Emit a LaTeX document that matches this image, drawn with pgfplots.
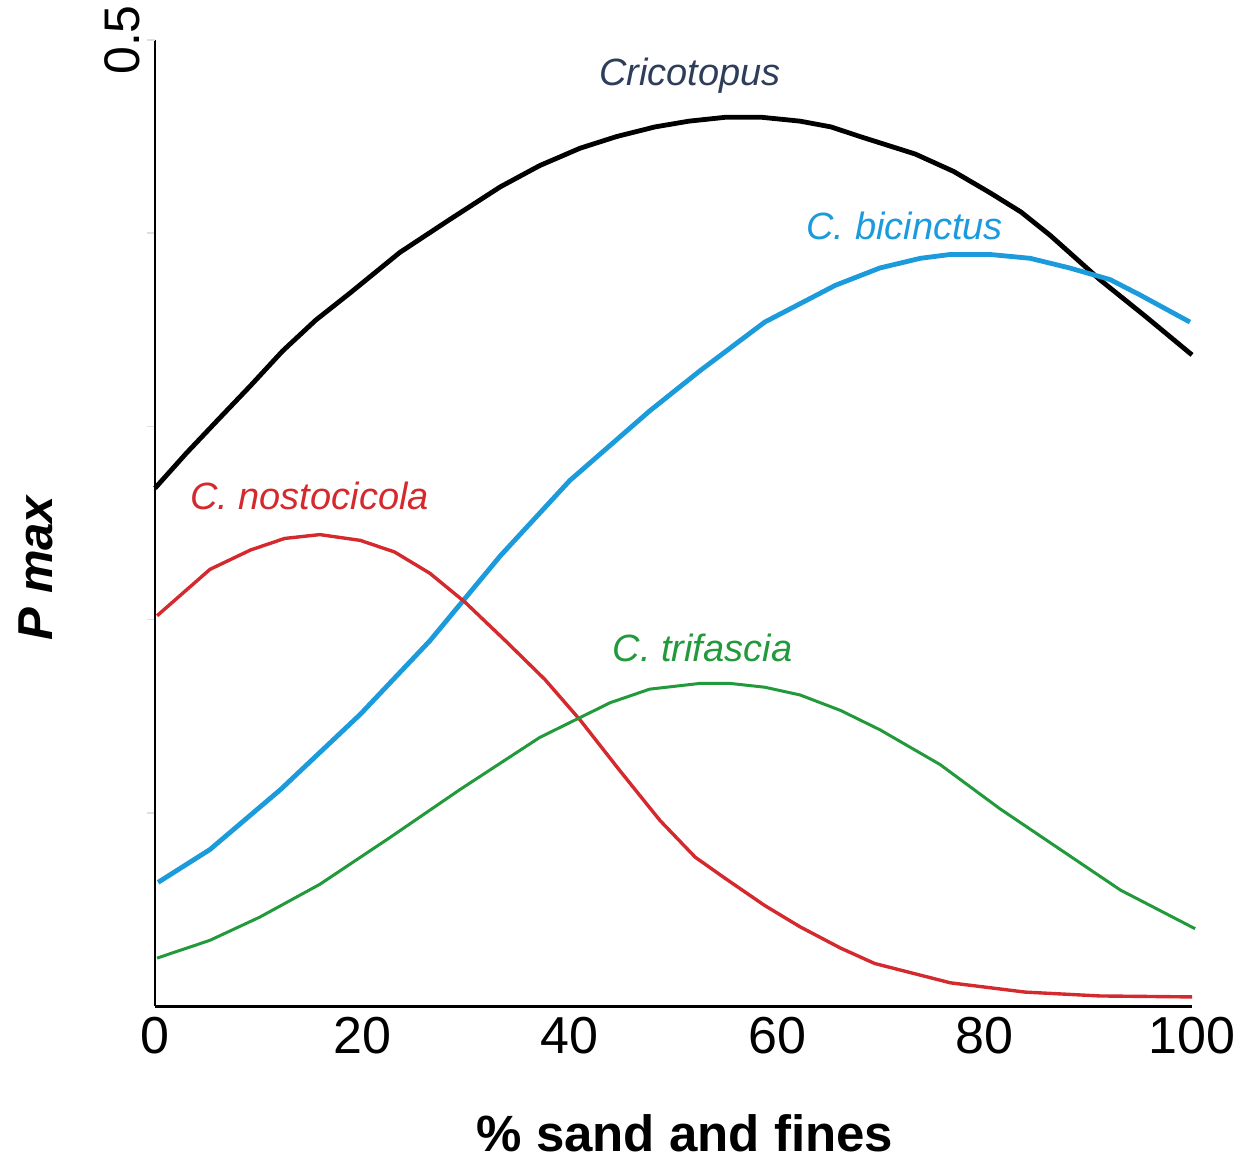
\documentclass[border=0pt]{standalone}
\usepackage{pgfplots}
\pgfplotsset{compat=1.18}
\usepackage{fontspec}
\setmainfont{Liberation Sans}
\definecolor{cblack}{HTML}{000000}
\definecolor{cblue}{HTML}{1B9BDC}
\definecolor{cred}{HTML}{D42A2E}
\definecolor{cgreen}{HTML}{22993A}
\definecolor{cslate}{HTML}{2E3D5A}
\definecolor{tickblue}{HTML}{33338F}
\begin{document}
\begin{tikzpicture}
\begin{axis}[
  scale only axis,
  width=518.5pt, height=483pt,
  xmin=0, xmax=100, ymin=0, ymax=0.5,
  axis lines=left,
  axis line style={-},
  x axis line style={line width=1.5pt},
  y axis line style={line width=1pt},
  clip=false,
  xtick={0,20,40,60,80,100},
  xticklabels={0,20,40,60,80,100},
  x tick label style={font=\fontsize{26}{30}\selectfont, yshift=2pt},
  xtick style={draw=none},
  ytick={0.1,0.2,0.3,0.4},
  yticklabels={},
  ytick style={gray!25, line width=0.8pt},
  tick align=outside,
  major tick length=4pt,
  extra y ticks={0.5},
  extra y tick labels={0.5},
  extra y tick style={
    tick style={tickblue, line width=1pt},
    tick label style={rotate=90, anchor=south, font=\fontsize{25}{30}\selectfont}
  },
  /pgf/number format/assume math mode=true,
  xlabel={\bfseries\% sand and fines},
  xlabel style={at={(axis description cs:0.511,-0.1511)}, anchor=base, font=\fontsize{25.5}{30}\selectfont},
  ylabel={\bfseries\itshape P max},
  ylabel style={at={(axis description cs:-0.0993,0.4534)}, anchor=base, rotate=0, font=\fontsize{24.5}{30}\selectfont},
]
\coordinate (O) at (axis cs:0,0);
\coordinate (T) at (axis cs:100,0.5);
% Cricotopus
\addplot[cblack, line width=2.4pt] coordinates {
(0,0.268) (3,0.286) (6,0.303) (9.2,0.321) (12.3,0.339) (15.5,0.355) (18.8,0.369) (23.6,0.390) (28.4,0.407) (33.3,0.424)
(37.1,0.435) (41.0,0.444) (44.5,0.450) (48.2,0.455) (51.5,0.458) (55.0,0.460) (58.5,0.460) (62.2,0.458) (65.2,0.455)
(68.0,0.450) (73.3,0.441) (77,0.432) (80.5,0.421) (83.5,0.411) (86.3,0.399) (91.1,0.376) (95.5,0.357) (100,0.337)};
% C. bicinctus
\addplot[cblue, line width=2.4pt] coordinates {
(0.3,0.064) (5.3,0.081) (12.1,0.112) (19.8,0.151) (26.5,0.189) (33.3,0.233) (40.0,0.272) (47.7,0.308) (52.6,0.329)
(58.8,0.354) (65.6,0.373) (69.9,0.382) (73.8,0.387) (76.7,0.389) (80.5,0.389) (84.4,0.387) (88.2,0.382) (92.1,0.376)
(95.0,0.368) (99.8,0.354)};
% C. nostocicola
\addplot[cred, line width=1.7pt] coordinates {
(0.2,0.202) (5.3,0.226) (9.2,0.236) (12.5,0.242) (15.9,0.244) (19.8,0.241) (23.1,0.235) (26.5,0.224) (29.9,0.209)
(33.8,0.189) (37.6,0.169) (41.0,0.148) (44.8,0.122) (48.7,0.096) (52.1,0.077) (55.0,0.066) (58.8,0.052) (62.2,0.041)
(66.1,0.030) (69.4,0.022) (76.7,0.012) (83.9,0.0072) (91.1,0.0052) (100,0.0047)};
% C. trifascia
\addplot[cgreen, line width=1.5pt] coordinates {
(0.2,0.0248) (5.3,0.034) (10.1,0.046) (15.9,0.063) (22.6,0.087) (29.4,0.112) (37.1,0.139) (43.9,0.157) (47.7,0.164)
(52.6,0.167) (55.4,0.167) (58.8,0.165) (62.2,0.161) (66.1,0.153) (69.9,0.143) (75.7,0.125) (81.5,0.102) (87.3,0.081)
(93.1,0.060) (100.3,0.040)};
\node[cslate, font=\fontsize{19}{22}\selectfont\itshape] at (axis cs:51.6,0.4815) {Cricotopus};
\node[cblue, font=\fontsize{19}{22}\selectfont\itshape] at (axis cs:72.3,0.4037) {C. bicinctus};
\node[cred, font=\fontsize{19}{22}\selectfont\itshape] at (axis cs:14.9,0.264) {C. nostocicola};
\node[cgreen, font=\fontsize{19}{22}\selectfont\itshape] at (axis cs:52.8,0.1853) {C. trifascia};
\end{axis}
\pgfresetboundingbox
\path[use as bounding box] ([xshift=-77.5pt,yshift=-77.5pt]O) rectangle ([xshift=32.5pt,yshift=20pt]T);
\end{tikzpicture}
\end{document}
